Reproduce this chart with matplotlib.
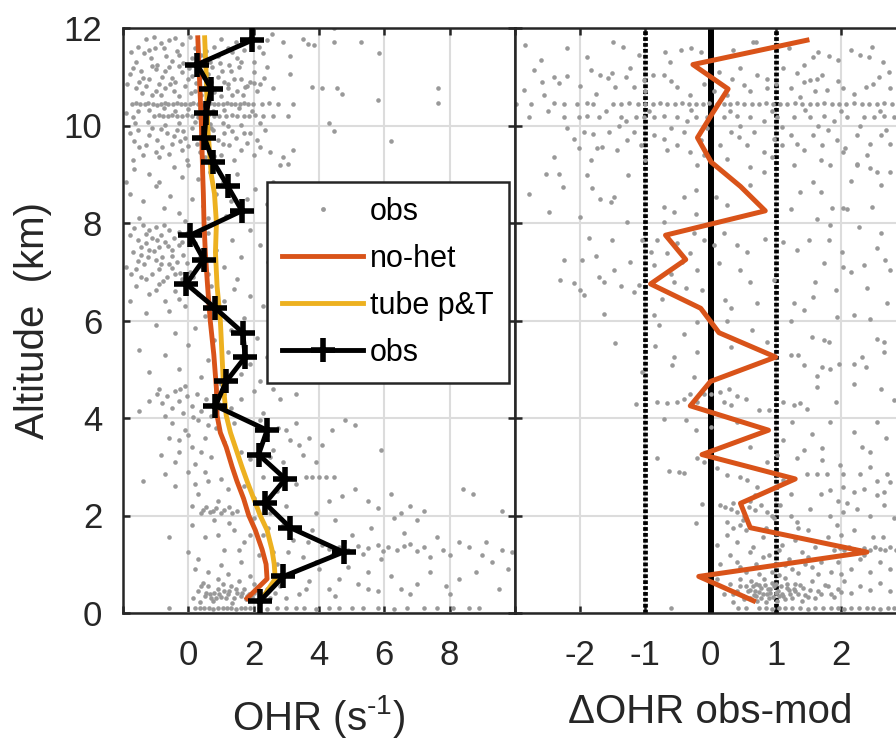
import numpy as np
import matplotlib
matplotlib.use("Agg")
import matplotlib.pyplot as plt
from matplotlib.lines import Line2D

plt.rcParams['font.family'] = ['Liberation Sans', 'DejaVu Sans']
plt.rcParams['mathtext.fontset'] = 'custom'
plt.rcParams['mathtext.rm'] = 'Liberation Sans'

# --- profiles ---------------------------------------------------------------
model_alt = [0.3, 0.7, 1.0, 1.3, 1.7, 2.0, 2.35, 2.7, 3.0, 3.4, 3.7, 4.05,
             4.6, 5.3, 6.0, 6.7, 7.4, 8.0, 8.6, 9.0, 10.0, 11.0, 11.8]
nohet_ohr = [1.80, 2.41, 2.38, 2.26, 2.05, 1.85, 1.69, 1.49, 1.34, 1.16, 0.98, 0.88,
             0.86, 0.78, 0.67, 0.59, 0.52, 0.48, 0.46, 0.44, 0.40, 0.34, 0.29]
tube_ohr = [2.26, 2.66, 2.63, 2.56, 2.41, 2.20, 2.00, 1.80, 1.64, 1.44, 1.29, 1.16,
            1.08, 1.03, 0.98, 0.88, 0.83, 0.86, 0.80, 0.70, 0.59, 0.55, 0.50]

obs_alt = [0.25, 0.75, 1.25, 1.75, 2.25, 2.75, 3.25, 3.75, 4.25, 4.75, 5.25, 5.75,
           6.25, 6.75, 7.25, 7.75, 8.25, 8.75, 9.25, 9.75, 10.25, 10.75, 11.25, 11.75]
obs_ohr = [2.20, 2.91, 4.75, 3.12, 2.35, 2.97, 2.15, 2.41, 0.83, 1.16, 1.74, 1.67,
           0.83, -0.06, 0.47, 0.06, 1.64, 1.21, 0.77, 0.49, 0.55, 0.70, 0.27, 1.95]
dohr = [0.66, -0.18, 2.40, 0.61, 0.46, 1.30, -0.13, 0.89, -0.31, 0.00, 1.00, 0.13,
        -0.15, -0.92, -0.38, -0.69, 0.84, 0.46, 0.01, -0.20, 0.03, 0.27, -0.27, 1.48]

# --- individual samples, OHR (x, altitude) ---------------------------------
ohr_top = [(-1.3,11.78),(-1.05,11.82),(-0.85,11.7),(-0.6,11.76),(-0.4,11.8),(-0.2,11.68),(0.05,11.82),
           (-1.2,11.55),(-0.75,11.6),(-0.35,11.52),(0.8,11.62),(1.0,11.78),(1.2,11.6),(1.45,11.72),
           (1.7,11.55),(2.4,11.76),(2.55,11.88),(2.9,11.72),(3.5,11.78),(3.65,11.68),(3.85,11.66),
           (4.45,11.72),(5.3,11.72),(4.45,12.0),(0.4,11.45),(0.9,11.42),(1.5,11.38),(2.3,11.48),
           (-1.15,11.38),(-0.5,11.33),(-0.15,11.28),(0.65,11.3),(5.85,11.48),(3.1,11.42),(-1.6,11.3),
           (1.25,11.25),(2.0,11.3),(-0.95,11.25),(0.2,11.6),(1.9,11.8),
           (-1.8,11.05),(-1.45,11.12),(-1.2,10.95),(-1.0,11.15),(-0.8,11.0),(-0.6,11.2),(-0.4,10.9),
           (-0.2,11.1),(0.1,11.02),(0.3,11.16),(0.6,11.05),(0.9,11.0),(1.1,10.9),(1.3,11.12),(1.6,10.96),
           (1.9,10.9),(2.2,10.86),(-1.6,10.76),(-1.3,10.82),(-1.0,10.7),(-0.7,10.76),(-0.45,10.7),
           (-0.1,10.82),(0.2,10.7),(0.5,10.8),(0.8,10.68),(1.2,10.76),(1.5,10.7),(1.8,10.82),(2.1,10.7),
           (2.6,10.76),(3.1,11.05),(3.8,10.8),(4.1,10.76),(4.55,10.76),(4.7,10.65),(5.8,10.52),
           (7.65,10.76),(7.65,10.46),(-1.5,10.9),(0.0,10.96),(1.4,10.95),(2.0,11.1),(-0.9,10.86),
           (0.7,10.9),(2.4,11.2),(-1.1,10.62),(0.4,10.62),(1.0,10.6),(-0.3,10.6),
           (-1.72,10.45),(-1.6,10.46),(-1.48,10.44),(-1.33,10.45),(-1.22,10.47),(-1.08,10.45),
           (-0.97,10.43),(-0.83,10.45),(-0.7,10.46),(-0.61,10.44),(-0.48,10.45),(-0.36,10.47),
           (-0.22,10.45),(-0.1,10.44),(0.04,10.45),(0.15,10.46),(0.29,10.45),(0.41,10.43),(0.55,10.45),
           (0.66,10.47),(0.79,10.45),(0.92,10.44),(1.05,10.45),(1.18,10.46),(1.3,10.45),(1.44,10.44),
           (1.57,10.45),(1.69,10.46),(1.83,10.45),(1.97,10.45),(2.25,10.44),(2.48,10.46),(2.75,10.45),
           (3.2,10.45),(-1.05,10.2),(-0.9,10.21),(-0.78,10.19),(-0.62,10.2),(-0.5,10.22),(-0.35,10.2),
           (-0.2,10.19),(-0.05,10.21),(0.12,10.2),(0.3,10.18),(0.45,10.2),(0.6,10.21),(0.78,10.2),
           (0.95,10.19),(1.15,10.2),(1.35,10.22),(1.5,10.2),(1.7,10.19),(1.85,10.2),(2.05,10.21),
           (2.3,10.2),(2.6,10.19),(3.05,10.2),(-1.9,10.25),(4.3,10.05),(-1.7,10.18),
           (-1.75,11.5),(-1.55,11.62),(-1.35,11.48),(-1.02,11.58),(-0.68,11.42),(-0.28,11.44),
           (0.12,11.38),(0.55,11.52),(0.98,11.28),(1.35,11.5),(1.62,11.3),(2.15,11.62),(-1.68,11.18),
           (-1.38,10.98),(-1.12,11.22),(-0.72,11.12),(-0.5,10.98),(-0.28,11.22),(0.02,11.18),
           (0.22,10.88),(0.45,11.0),(0.72,11.2),(1.02,11.12),(1.22,10.85),(1.55,11.2),(1.72,10.78),
           (2.32,10.98),(-1.88,10.85),(-1.42,10.66),(-0.85,10.62),(-0.55,10.85),(0.08,10.66),
           (0.62,10.68),(1.35,10.62),(1.68,10.62),(2.0,10.88),(-1.55,10.3),(-1.2,10.32),(-0.75,10.35),
           (-0.4,10.3),(0.0,10.33),(0.35,10.35),(0.75,10.3),(1.1,10.32),(1.55,10.35),(1.95,10.3),
           (-1.62,10.05),(-1.25,10.08),(-0.7,10.02),(-0.3,10.05),(0.2,10.08),(0.65,10.04),(1.05,10.06),
           (1.6,10.02),(2.2,10.05)]

ohr_mid = [(-1.8,9.85),(-1.55,9.9),(-1.3,9.6),(-1.1,9.95),(-0.95,9.7),(-0.8,9.55),(-0.65,9.85),
           (-0.5,9.62),(-0.35,9.9),(-0.2,9.5),(-0.1,9.75),(0.1,9.95),(0.25,9.62),(0.4,9.8),(0.6,9.55),
           (0.75,9.9),(0.9,9.7),(1.1,9.85),(1.25,9.6),(1.45,9.75),(1.6,9.5),(1.8,9.65),(2.0,9.4),
           (2.2,9.55),(2.5,9.45),(2.9,9.35),(3.2,9.5),(4.45,9.88),(6.2,9.68),(-1.7,9.3),(-1.4,9.4),
           (-0.9,9.35),(-0.6,9.42),(-0.05,9.3),(0.5,9.35),(1.0,9.4),(1.4,9.3),(1.9,9.85),(2.35,9.9),
           (-1.2,9.8),(-0.25,9.68),(0.55,9.72),(1.2,9.98),(2.8,9.18),(3.05,9.22),
           (-1.65,9.68),(-1.0,9.45),(-0.45,9.78),(0.0,9.58),(0.35,9.45),(0.8,9.38),(1.05,9.62),
           (1.35,9.88),(1.7,9.85),(2.1,9.7),(-0.85,9.92),(-0.15,9.88),(0.7,9.95),(-1.5,9.55),
           (-1.65,9.1),(-1.2,9.0),(-0.9,8.85),(-0.45,9.15),(-0.2,8.95),(0.0,9.2),(0.3,8.9),(0.65,9.05),
           (1.05,8.85),(1.5,9.0),(2.05,8.7),(2.4,8.4),(2.55,8.25),(-1.8,8.6),(-1.4,8.45),(-1.0,8.75),
           (-0.75,8.3),(-0.55,8.55),(-0.3,8.2),(0.1,8.5),(0.45,8.35),(0.85,8.6),(1.15,8.15),(1.8,8.5),
           (-1.5,8.1),(-0.1,8.05),(0.6,8.1),(-1.9,8.85),(1.3,8.45),(2.6,8.85),
           (-1.4,7.95),(-1.2,7.85),(-1.0,7.92),(-0.85,7.75),(-0.6,7.85),(-0.45,7.7),(-1.55,7.65),
           (-1.3,7.6),(-1.1,7.7),(-0.9,7.5),(-0.7,7.62),(-0.5,7.45),(-0.3,7.55),(-1.7,7.4),(-1.45,7.35),
           (-1.2,7.45),(-1.0,7.25),(-0.8,7.3),(-0.6,7.15),(-0.35,7.2),(-0.15,7.35),(-1.9,7.1),(-1.6,7.05),
           (-1.35,7.15),(-1.1,6.95),(-0.9,7.05),(-0.65,6.9),(-0.4,6.95),(-0.2,6.85),(0.05,7.0),(-1.3,6.85),
           (0.2,7.6),(0.35,7.3),(0.6,7.8),(0.85,7.45),(1.1,7.1),(1.35,7.65),(1.6,7.3),(1.9,7.85),
           (2.2,7.55),(2.45,7.2),(0.6,6.95),(1.5,6.85),(-0.05,7.8),
           (-1.8,7.75),(-1.65,7.9),(-1.3,7.78),(-0.95,7.65),(-0.75,7.95),(-0.3,7.82),(-1.45,7.5),
           (-1.05,7.42),(-0.62,7.52),(-0.2,7.62),(-1.55,7.22),(-1.25,7.3),(-0.85,7.15),(-0.5,7.32),
           (-0.05,7.18),(-1.75,6.95),(-1.45,6.9),(-0.78,6.82),(-0.5,7.08),(-0.25,6.98),(0.15,6.9),
           (0.4,7.12),(-1.0,6.62),(-0.3,6.45),(0.05,6.75),
           (-1.6,6.7),(-1.2,6.55),(-0.9,6.75),(-0.7,6.4),(-0.4,6.6),(-0.1,6.3),(0.3,6.55),(0.7,6.7),
           (1.1,6.4),(1.4,6.65),(1.9,6.5),(2.3,6.3),(-1.3,6.15),(-0.6,6.2),(0.5,6.1),(1.7,6.05),(-1.8,6.4),
           (-1.0,5.9),(-0.4,5.75),(0.2,5.85),(0.8,5.6),(1.3,5.8),(2.1,5.65),(2.5,5.5),(-1.5,5.4),
           (-0.7,5.3),(0.0,5.5),(0.6,5.2),(1.2,5.35),(1.9,5.1),(2.4,5.25),(-1.2,4.95),(-0.3,5.0),
           (0.4,4.85),(1.0,4.7),(1.6,4.9),(2.2,4.75),(2.6,4.6),(3.0,5.0),(-0.9,4.6),(-0.1,4.65),
           (-1.2,4.35),(-0.95,4.5),(-0.8,4.3),(-0.65,4.45),(-0.5,4.2),(-0.4,4.55),(-0.3,4.35),
           (-0.15,4.1),(-0.05,4.45),(0.1,4.25),(0.25,4.5),(0.4,4.15),(0.55,4.4),(0.7,4.05),(0.9,4.3),
           (1.1,4.5),(1.3,4.2),(-0.7,4.05),(-0.25,4.6),(0.15,4.02),(1.6,4.4),(2.0,4.55),(2.3,4.1),
           (2.8,4.4),(3.3,4.5),(-1.5,4.15)]

ohr_low = [(-0.85,3.25),(-0.5,3.9),(-0.3,3.55),(-0.1,3.75),(0.1,3.4),(0.3,3.95),(0.5,3.6),(0.7,3.2),
           (0.85,3.8),(-0.4,3.1),(0.2,3.05),(1.1,3.5),(1.4,3.9),(1.6,3.3),(2.2,3.95),(2.4,3.65),
           (2.6,3.35),(2.75,3.8),(2.9,3.1),(3.1,3.55),(3.3,3.9),(3.5,3.25),(3.7,3.6),(4.1,3.45),
           (4.4,3.75),(4.8,3.95),(5.1,3.85),(3.9,3.1),(1.9,3.15),(5.9,3.35),(-0.6,3.6),
           (-0.3,3.3),(0.0,3.65),(0.4,3.3),(0.6,3.85),(2.5,3.2),(3.0,3.75),(3.4,3.45),
           (-0.7,2.85),(-0.4,2.6),(0.0,2.9),(0.3,2.45),(0.6,2.7),(0.9,2.3),(1.2,2.55),(0.45,2.12),
           (0.65,2.08),(0.85,2.15),(1.0,2.05),(1.25,2.18),(1.5,2.1),(1.7,2.6),(2.0,2.35),(2.3,2.8),
           (2.7,2.5),(3.0,2.2),(3.3,2.65),(3.6,2.8),(3.8,2.8),(4.0,2.8),(4.2,2.8),(4.45,2.8),(4.7,2.4),
           (5.1,2.55),(5.5,2.3),(5.8,2.15),(6.2,2.45),(6.8,2.2),(7.2,2.1),(8.4,2.55),(8.7,2.45),
           (9.6,2.1),(3.9,2.05),(-1.4,2.7),(0.1,2.2),(2.5,2.05),(6.5,2.05),(4.3,2.3),
           (0.2,2.65),(0.5,2.9),(1.0,2.75),(0.4,2.05),(0.55,2.18),(0.75,2.1),(1.1,2.12),(1.35,2.05),
           (0.1,1.8),(0.5,1.55),(0.8,1.9),(1.1,1.3),(1.4,1.7),(1.7,1.45),(2.0,1.95),(2.3,1.6),(2.6,1.25),
           (2.9,1.8),(3.2,1.5),(3.5,1.15),(3.8,1.7),(4.1,1.4),(4.3,1.32),(4.6,1.36),(4.9,1.3),(5.2,1.38),
           (5.5,1.33),(5.8,1.4),(6.1,1.35),(6.4,1.3),(6.8,1.42),(7.2,1.35),(4.5,1.9),(5.0,1.6),(5.6,1.75),
           (6.3,1.95),(6.6,1.65),(7.0,1.9),(7.6,1.55),(8.0,1.2),(8.3,1.45),(8.6,1.35),(9.0,1.2),
           (9.3,1.05),(9.9,1.25),(0.3,1.1),(1.6,1.05),(2.7,1.0),(3.9,1.05),(5.9,1.1),(7.4,1.15),
           (-0.6,1.55),(0.0,1.25),(1.9,1.6),
           (0.9,1.6),(1.25,1.85),(1.55,1.3),(2.15,1.2),(2.45,1.75),(3.05,1.25),(3.65,1.45),(4.4,1.2),
           (4.75,1.45),(5.35,1.22),(5.95,1.28),(6.6,1.38),(7.0,1.28),(7.8,1.3),(9.1,1.45),(9.6,1.3),
           (0.3,0.45),(0.5,0.35),(0.6,0.55),(0.7,0.3),(0.8,0.42),(0.9,0.5),(1.0,0.32),(1.1,0.45),
           (1.2,0.38),(1.3,0.55),(1.4,0.3),(1.5,0.42),(1.6,0.35),(1.7,0.5),(1.75,0.28),(1.85,0.4),
           (1.95,0.33),(2.1,0.48),(2.3,0.38),(2.5,0.3),(0.45,0.62),(0.9,0.7),(1.2,0.8),(1.55,0.65),
           (1.9,0.75),(0.2,0.9),(0.6,0.85),(1.0,0.98),(0.15,0.3),(2.8,0.55),(3.1,0.8),(3.4,0.4),
           (3.7,0.65),(4.0,0.9),(4.3,0.5),(4.6,0.7),(4.9,0.95),(5.2,0.6),(5.5,0.85),(5.8,0.45),
           (6.2,0.75),(6.5,0.5),(7.0,0.6),(7.4,0.85),(7.9,0.55),(8.3,0.7),(8.8,0.85),(9.5,0.5),
           (9.8,0.9),(1.35,0.2),(0.75,0.25),(2.2,0.25),(0.35,0.22),(1.05,0.6),(2.0,0.6),
           (0.4,0.55),(0.55,0.42),(0.65,0.38),(0.85,0.3),(0.95,0.4),(1.15,0.3),(1.25,0.45),(1.45,0.5),
           (1.65,0.42),(1.8,0.34),(2.0,0.42),(2.4,0.5),(2.65,0.42),(3.0,0.3),(3.6,0.5),(4.5,0.35),
           (5.5,0.5),(6.8,0.38),(8.0,0.4),
           (0.2,0.1),(0.35,0.1),(0.48,0.11),(0.62,0.1),(0.75,0.09),(0.9,0.1),(1.05,0.11),(1.18,0.1),
           (1.3,0.1),(1.45,0.09),(1.6,0.1),(1.72,0.11),(1.9,0.1),(2.15,0.1),(2.4,0.09),(2.7,0.1),
           (3.0,0.11),(3.3,0.1),(3.55,0.1),(3.9,0.09),(4.3,0.1),(4.6,0.11),(5.0,0.1),(5.35,0.1),
           (5.8,0.1),(6.3,0.09),(6.7,0.1),(7.2,0.1),(7.6,0.11),(8.1,0.1),(8.6,0.1),(8.9,0.1),(-0.6,0.1)]

# --- individual samples, obs - model (x, altitude) --------------------------
d_top = [(-2.85,11.65),(-2.2,11.58),(-1.5,11.72),(-1.35,11.62),(-0.45,11.55),(-0.3,11.6),(-0.7,11.5),
         (0.65,11.72),(0.7,11.72),(-0.62,11.3),(2.15,11.55),(2.3,11.45),(2.48,11.62),(2.43,11.4),
         (1.58,11.4),(1.65,11.5),(1.82,11.42),(1.43,11.25),(-1.9,11.41),(-1.84,11.14),
         (-2.6,11.35),(-1.1,11.45),(-0.15,11.5),(0.35,11.55),(1.2,11.6),(1.95,11.35),(2.65,11.3),
         (-2.71,11.13),(-2.58,10.9),(-2.55,10.62),(-2.4,11.0),(-2.33,10.88),(-2.2,11.02),(-1.69,11.03),
         (-1.58,10.98),(-1.51,11.07),(-1.46,10.79),(-1.3,11.0),(-1.23,11.17),(-1.18,10.79),(-1.02,10.93),
         (-0.89,11.03),(-0.72,11.03),(-0.51,10.79),(-0.31,10.62),(0.13,11.1),(0.33,10.96),(0.46,11.17),
         (0.51,10.83),(0.72,11.03),(0.87,10.96),(1.12,11.17),(1.33,11.07),(1.43,10.9),(1.53,10.93),
         (1.64,10.96),(1.71,11.03),(1.79,10.72),(2.04,10.76),(2.38,10.79),(2.58,11.0),(2.74,11.1),
         (2.76,10.76),(-2.86,10.72),(1.23,10.76),(1.38,10.59),(0.87,10.76),(0.26,10.62),
         (-2.0,10.82),(-1.75,10.65),(-1.0,10.7),(-0.6,10.92),(-0.1,10.85),(0.05,10.7),(0.6,10.7),
         (1.0,10.85),(1.6,10.7),(1.95,10.92),(2.2,10.65),(2.5,10.85),
         (-2.99,10.45),(-2.75,10.45),(-2.4,10.46),(-2.25,10.44),(-2.05,10.45),(-1.9,10.46),
         (-1.8,10.45),(-1.5,10.45),(-1.38,10.44),(-1.25,10.46),(-1.12,10.45),(-1.0,10.45),(-0.88,10.44),
         (-0.78,10.46),(-0.66,10.45),(-0.55,10.45),(-0.44,10.46),(-0.33,10.44),(-0.22,10.45),
         (-0.12,10.45),(-0.02,10.46),(0.1,10.45),(0.2,10.44),(0.3,10.45),(0.41,10.46),(0.52,10.45),
         (0.63,10.45),(0.74,10.44),(0.85,10.46),(0.96,10.45),(1.07,10.45),(1.18,10.44),(1.3,10.46),
         (1.41,10.45),(1.52,10.45),(1.63,10.44),(1.74,10.46),(1.86,10.45),(1.97,10.45),(2.08,10.44),
         (2.2,10.46),(2.32,10.45),(2.43,10.45),(2.55,10.44),(2.66,10.46),(2.78,10.45),
         (-2.5,10.3),(-1.6,10.3),(-0.95,10.3),(-0.3,10.32),(0.3,10.3),(0.95,10.3),(1.45,10.32),
         (2.0,10.3),(2.6,10.3),
         (-2.79,10.18),(-2.25,10.18),(-2.02,10.17),(-1.89,10.19),(-1.71,10.18),(-1.38,10.18),(-1.3,10.1),
         (-1.15,10.18),(-1.02,10.17),(-0.87,10.18),(-0.72,10.19),(-0.51,10.18),(-0.36,10.1),
         (-0.23,10.18),(-0.05,10.17),(0.2,10.18),(0.41,10.19),(0.61,10.18),(0.82,10.1),(1.02,10.18),
         (1.28,10.17),(1.53,10.18),(1.74,10.19),(1.89,10.1),(2.09,10.18),(2.35,10.17),(2.51,10.18),
         (2.66,10.19),(2.81,10.18)]

d_mid = [(-2.1,9.73),(-2.02,9.53),(-1.94,9.87),(-1.81,9.83),(-1.74,9.53),(-1.66,9.56),(-1.56,9.87),
         (-1.43,9.49),(-1.28,9.7),(-1.18,9.87),(-1.07,9.59),(-0.87,9.8),(-0.72,9.73),(-0.66,9.49),
         (-0.51,9.59),(-0.41,9.87),(-0.31,9.46),(-0.15,9.7),(-0.05,9.94),(0.15,9.59),(0.31,9.87),
         (0.43,9.77),(0.56,9.59),(0.66,9.87),(0.82,9.46),(0.97,9.73),(1.1,9.59),(1.23,9.8),(1.33,9.63),
         (1.43,9.49),(1.58,9.8),(1.71,9.59),(1.81,9.9),(1.94,9.7),(2.07,9.53),(2.25,9.8),(2.45,9.63),
         (2.61,9.8),(2.76,9.63),(2.04,9.46),(-2.4,9.35),(-1.84,9.29),(0.26,9.32),(-0.2,9.18),
         (0.61,9.15),(1.28,9.18),(2.25,9.22),(2.56,9.05),
         (-2.2,9.95),(-1.4,9.98),(-0.6,9.95),(0.45,10.0),(1.1,9.97),(1.65,10.0),(2.3,9.98),(2.7,9.9),
         (-1.0,9.3),(-0.1,9.4),(0.95,9.35),(1.7,9.3),(2.4,9.4),
         (-2.53,9.01),(-2.33,9.01),(-2.27,8.74),(-1.9,8.98),(-1.82,8.72),(-1.27,8.98),(-1.69,8.5),
         (-1.48,8.53),(-2.79,8.6),(-2.48,8.22),(-2.0,8.12),(-1.53,8.43),(-0.72,8.33),(-0.56,8.22),
         (-0.41,8.53),(-0.23,8.67),(0.08,8.53),(0.26,8.36),(0.61,8.77),(0.82,9.05),(1.23,8.29),
         (1.38,8.64),(1.58,8.84),(1.69,8.64),(1.84,9.18),(2.1,8.29),(2.25,9.18),(2.45,9.12),(2.61,8.77),
         (2.76,9.05),(2.15,8.87),(1.87,8.3),(2.04,8.3),(2.48,8.33),(-0.23,8.19),(-0.72,8.02),
         (-1.28,8.02),(1.64,8.09),
         (-2.25,7.25),(-2.31,6.84),(-2.09,6.77),(-2.0,6.62),(-1.94,6.52),(-1.97,7.25),(-1.86,7.7),
         (-1.76,7.32),(-1.71,6.9),(-1.64,6.79),(-1.64,6.14),(-1.51,7.65),(-1.48,7.03),(-1.38,6.7),
         (-1.23,7.2),(-1.18,6.59),(-1.1,6.72),(-1.05,7.66),(-0.92,7.41),(-0.87,7.14),(-0.82,7.65),
         (-0.74,6.45),(-0.66,7.38),(-0.61,6.96),(-0.56,6.79),(-0.51,7.58),(-0.43,7.2),(-0.38,6.66),
         (-0.31,7.38),(-0.26,7.79),(-0.2,7.03),(-0.13,6.62),(-0.1,7.65),(0.05,7.55),(0.13,7.17),
         (0.2,7.79),(0.23,6.42),(0.31,6.25),(0.41,7.55),(0.46,7.03),(0.56,7.41),(0.61,6.79),(0.72,6.35),
         (0.84,7.68),(0.97,6.83),(1.12,7.62),(1.28,6.35),(1.33,7.44),(1.43,6.21),(1.51,7.65),(1.58,6.48),
         (1.61,6.79),(1.74,7.17),(1.82,7.65),(1.92,6.62),(2.02,7.41),(2.04,7.1),(2.15,6.99),(2.28,7.92),
         (2.35,7.14),(2.4,6.66),(2.45,6.04),(2.56,7.48),(2.61,7.79),(2.68,7.24),(2.71,6.35),(2.76,7.03),
         (1.84,7.96),(1.94,6.07),(2.2,6.11),(-0.87,6.11),(-0.2,5.97),(0.26,6.0),(1.23,6.0),
         (-1.46,5.53),(-0.85,5.47),(-0.79,5.9),(-0.41,5.72),(-0.56,5.25),(-0.59,5.08),(-0.2,5.35),
         (-1.05,4.94),(-1.15,4.29),(-0.26,4.84),(0.31,5.46),(0.64,5.8),(0.87,5.56),(1.23,5.29),
         (1.35,5.29),(1.43,5.08),(1.56,5.66),(1.74,5.61),(1.82,5.56),(1.64,4.87),(1.71,5.05),(1.84,5.01),
         (1.97,5.11),(2.2,5.11),(2.32,5.25),(2.38,5.05),(2.56,5.63),(2.66,5.56),(2.66,5.35),(2.2,4.7),
         (2.61,4.6),(1.92,4.33),(1.38,4.31),(1.48,4.19),(1.64,4.64),(-0.31,4.5),(-0.2,4.33),(-0.1,4.5),
         (0.0,4.5),(0.15,4.54),(0.28,4.6),(0.41,4.46),(0.54,4.4),(0.2,4.33),(0.31,4.26),(-0.51,4.33),
         (-0.41,4.4),(-0.66,4.31),(-0.82,4.33),(0.74,4.16),(0.9,4.16),(1.12,4.33),(1.28,4.26),(2.81,4.36)]

d_low = [(-0.72,3.98),(-0.38,3.96),(-0.23,3.75),(0.0,3.82),(-0.82,3.17),(-0.64,2.91),(-0.49,2.9),
         (-0.41,2.88),(-0.2,3.18),(-0.1,3.1),(0.1,2.98),(0.26,2.83),(0.46,2.79),(0.56,2.72),(0.72,2.59),
         (0.41,3.92),(0.61,3.41),(0.87,3.1),(1.02,3.24),(1.12,3.55),(1.25,3.92),(1.33,3.17),(1.43,3.34),
         (1.56,3.68),(1.71,3.38),(1.71,3.14),(1.84,3.92),(1.99,3.03),(2.04,2.86),(2.2,3.72),(2.33,3.41),
         (2.45,3.31),(2.56,3.92),(2.3,2.86),(2.45,3.0),(2.71,2.86),(1.64,2.86),(1.48,2.86),(1.79,2.86),
         (2.76,2.69),(1.69,2.45),(1.84,2.52),(2.04,2.59),(2.2,2.48),(2.35,2.55),(2.56,2.42),(2.66,2.48),
         (1.23,2.45),(1.12,2.72),(-0.13,2.24),(-0.23,1.85),(2.55,2.7),(2.7,3.6),
         (0.15,2.21),(0.23,2.18),(0.31,2.14),(0.41,2.07),(0.51,2.0),(0.59,2.18),(0.69,2.11),(0.77,2.21),
         (0.87,2.07),(0.97,1.94),(1.07,2.21),(1.23,2.0),(1.33,1.87),(0.26,1.87),(0.46,1.8),(0.69,2.42),
         (1.53,2.14),(1.84,2.0),(2.04,2.07),(2.25,2.14),(2.45,2.0),(2.66,2.21),(2.81,1.94),(1.94,1.8),
         (0.5,1.9),(0.95,2.0),(0.35,2.25),(0.6,2.3),(2.1,2.25),(1.95,2.3),
         (0.25,1.6),(0.4,1.45),(0.55,1.7),(0.65,1.35),(0.8,1.55),(0.9,1.2),(1.0,1.65),(1.1,1.4),(1.2,1.1),
         (1.3,1.5),(1.4,1.25),(1.5,1.7),(1.6,1.35),(1.7,1.05),(1.8,1.55),(1.9,1.3),(1.98,1.33),(2.05,1.3),
         (2.12,1.35),(2.2,1.32),(2.28,1.3),(2.36,1.34),(2.44,1.3),(2.52,1.35),(2.6,1.31),(2.68,1.3),
         (2.76,1.36),(2.84,1.3),(2.0,1.6),(2.3,1.1),(2.6,1.05),(2.75,0.9),(0.3,1.2),(0.45,0.95),(0.7,1.0),
         (0.95,0.85),(1.25,0.9),(1.55,0.95),(1.85,0.85),(2.15,0.9),(2.45,0.85),(0.15,1.0),(0.85,1.75),
         (1.35,1.75),(0.35,1.75),(2.2,1.7),(0.6,1.25),(1.05,1.3),(1.45,1.0),(2.5,1.55),(0.1,1.4),
         (0.55,0.85),(0.75,0.8),(1.05,0.78),(1.35,0.82),(1.65,0.8),(2.0,0.8),(0.4,1.05),(0.8,1.15),
         (1.15,0.98),(1.5,1.15),(1.95,1.05),(2.35,1.2),(2.65,1.55),
         (0.3,0.6),(0.4,0.45),(0.45,0.7),(0.5,0.35),(0.55,0.55),(0.6,0.3),(0.62,0.65),(0.68,0.45),
         (0.72,0.25),(0.75,0.58),(0.8,0.38),(0.82,0.7),(0.88,0.5),(0.9,0.3),(0.95,0.62),(1.0,0.42),
         (1.02,0.25),(1.08,0.55),(1.12,0.35),(1.15,0.72),(1.2,0.47),(1.25,0.3),(1.3,0.6),(1.35,0.4),
         (1.42,0.52),(1.5,0.33),(1.55,0.65),(1.65,0.45),(1.75,0.58),(1.85,0.38),(1.95,0.5),(2.05,0.65),
         (2.15,0.42),(2.3,0.55),(2.45,0.48),(2.6,0.62),(2.75,0.45),(0.2,0.4),(0.35,0.22),(0.85,0.22),
         (1.4,0.24),(0.58,0.45),(0.78,0.52),(0.98,0.55),(1.18,0.6),(0.7,0.35),(1.05,0.35),(0.92,0.42),
         (0.65,0.55),(1.28,0.5),(0.1,0.7),(-0.6,0.1),
         (0.35,0.4),(0.45,0.55),(0.52,0.28),(0.6,0.48),(0.66,0.36),(0.7,0.6),(0.74,0.44),(0.78,0.3),
         (0.84,0.58),(0.87,0.4),(0.92,0.5),(0.96,0.33),(1.0,0.6),(1.04,0.46),(1.1,0.4),(1.14,0.28),
         (1.18,0.52),(1.22,0.38),(1.3,0.45),(1.38,0.58),(1.45,0.36),(1.52,0.48),(1.6,0.3),(1.7,0.4),
         (1.8,0.55),(1.9,0.32),(2.0,0.44),
         (0.42,0.1),(0.55,0.11),(0.75,0.1),(0.85,0.1),(0.95,0.09),(1.05,0.1),(1.15,0.11),(1.25,0.1),
         (1.38,0.1),(1.5,0.09),(1.6,0.1),(1.72,0.11),(1.85,0.1),(1.95,0.1),(2.05,0.09),(2.15,0.1),
         (2.28,0.11),(2.4,0.1),(2.5,0.1),(2.6,0.09),(2.72,0.1),(2.82,0.11)]

ORANGE = '#D95319'
YELLOW = '#EDB120'
DOT = '#999999'
AXC = '#262626'
TICK_FS = 25
LABEL_FS = 29


def style_axes(ax):
    ax.grid(True, color='#dcdcdc', linewidth=1.5, zorder=0)
    ax.set_axisbelow(True)
    for s in ax.spines.values():
        s.set_color(AXC)
        s.set_linewidth(1.8)
    ax.tick_params(which='both', direction='in', length=5, width=1.8, color=AXC,
                   top=True, right=True, labelsize=TICK_FS, labelcolor=AXC)
    ax.tick_params(axis='x', pad=19)
    ax.tick_params(axis='y', pad=15)


fig = plt.figure(figsize=(8.96, 7.45), dpi=100)
axL = fig.add_axes([123 / 896, 132 / 745, 392 / 896, 585 / 745])
axR = fig.add_axes([515 / 896, 132 / 745, 391 / 896, 585 / 745])

# left: OHR profiles
pts = np.array(ohr_top + ohr_mid + ohr_low)
axL.plot(pts[:, 0], pts[:, 1], 'o', color=DOT, markersize=3.3, markeredgewidth=0, zorder=2)
axL.plot(nohet_ohr, model_alt, color=ORANGE, lw=3.5, zorder=3)
axL.plot(tube_ohr, model_alt, color=YELLOW, lw=3.5, zorder=3)
axL.plot(obs_ohr, obs_alt, color='k', lw=3.5, marker='+', markersize=17,
         markeredgewidth=4, zorder=4)
axL.set_xlim(-2, 10)
axL.set_ylim(0, 12)
axL.set_xticks(np.arange(-2, 11, 2))
axL.set_xticklabels(['', '0', '2', '4', '6', '8', ''])
axL.set_yticks(np.arange(0, 13, 2))
style_axes(axL)
axL.set_xlabel('OHR (s$^{\\text{-1}}$)', fontsize=LABEL_FS, labelpad=15, color=AXC)
axL.set_ylabel('Altitude  (km)', fontsize=LABEL_FS, labelpad=8, color=AXC)

handles = [Line2D([], [], ls='none', marker='o', color=DOT, markersize=3.5, markeredgewidth=0),
           Line2D([], [], color=ORANGE, lw=3.5),
           Line2D([], [], color=YELLOW, lw=3.5),
           Line2D([], [], color='k', lw=3.5, marker='+', markersize=17, markeredgewidth=4)]
leg = axL.legend(handles, ['obs', 'no-het', 'tube p&T', 'obs'], loc='upper left',
                 bbox_to_anchor=(0.367, 0.737), borderaxespad=0, fontsize=22,
                 handlelength=2.65, handletextpad=0.22, labelspacing=0.55,
                 borderpad=0.5, fancybox=False, framealpha=1)
leg.get_frame().set_edgecolor(AXC)
leg.get_frame().set_linewidth(1.8)

# right: obs - model differences
dp = np.array(d_top + d_mid + d_low)
axR.axvline(0, color='k', lw=4.3, zorder=1)
axR.axvline(-1, color='k', lw=3.4, ls=(0, (0.8, 0.45)), zorder=1)
axR.axvline(1, color='k', lw=3.4, ls=(0, (0.8, 0.45)), zorder=1)
axR.plot(dp[:, 0], dp[:, 1], 'o', color=DOT, markersize=3.3, markeredgewidth=0, zorder=2)
axR.plot(dohr, obs_alt, color=ORANGE, lw=3.6, zorder=4)
axR.set_xlim(-3, 3)
axR.set_ylim(0, 12)
axR.set_xticks(np.arange(-3, 4, 1))
axR.set_xticklabels(['', '-2', '-1', '0', '1', '2', ''])
axR.set_yticks(np.arange(0, 13, 2))
axR.set_yticklabels([])
style_axes(axR)
axR.set_xlabel('\u0394OHR obs-mod', fontsize=LABEL_FS, labelpad=15, color=AXC)

fig.savefig('out.png', dpi=100)
